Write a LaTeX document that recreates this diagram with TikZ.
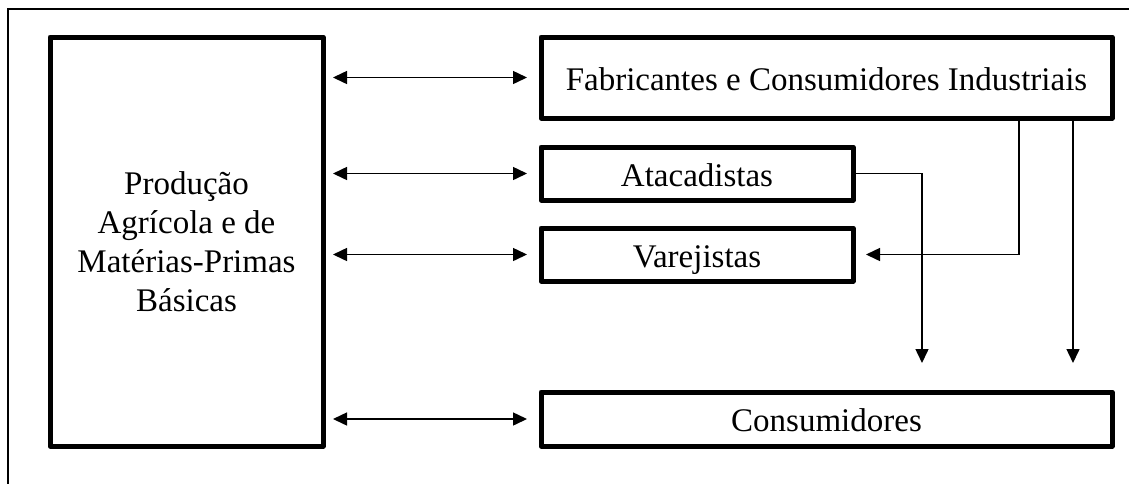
\documentclass[tikz,border=0pt]{standalone}
\usepackage{fontspec}
\setmainfont{Liberation Serif}
\usetikzlibrary{arrows.meta}
\begin{document}
\begin{tikzpicture}[x=1pt,y=-1pt,
  boxnode/.style={draw, line width=5pt, line join=round, inner sep=0pt, outer sep=0pt, font=\fontsize{33}{39}\selectfont, align=center},
  onerow/.style={text height=25pt, text depth=0pt},
  conn/.style={line width=1.5pt, -{Triangle[length=14pt,width=13pt]}},
  biconn/.style={line width=1.5pt, {Triangle[length=14pt,width=13pt]}-{Triangle[length=14pt,width=13pt]}}]
\useasboundingbox (0,0) rectangle (1129,483);
\draw[line width=1.2pt] (8,490) -- (8,9) -- (1135,9);
\node[boxnode, minimum width=273pt, minimum height=409pt] (prod) at (186.5,241.5) {Produção\\Agrícola e de\\Matérias-Primas\\Básicas};
\node[boxnode, onerow, minimum width=571pt, minimum height=81pt] (fab) at (826.5,77.5) {Fabricantes e Consumidores Industriais};
\node[boxnode, onerow, minimum width=312pt, minimum height=53pt] (atac) at (697,173.5) {Atacadistas};
\node[boxnode, onerow, minimum width=312pt, minimum height=53pt] (varej) at (697,254.5) {Varejistas};
\node[boxnode, onerow, minimum width=571pt, minimum height=54pt] (cons) at (826.5,419) {Consumidores};
\foreach \b in {fab,atac,varej,cons}
  \draw[biconn, shorten <=10pt, shorten >=14pt] (prod.east |- \b.west) -- (\b.west);
\coordinate (d1) at (922,363);
\coordinate (c1) at (1019,0);
\coordinate (c2) at (1073,0);
\coordinate (d2) at (1073,363);
\draw[conn] (atac.east) -| (d1);
\draw[conn] (fab.south -| c1) |- ([xshift=13pt]varej.east);
\draw[conn] (fab.south -| c2) -- (d2);
\end{tikzpicture}
\end{document}
